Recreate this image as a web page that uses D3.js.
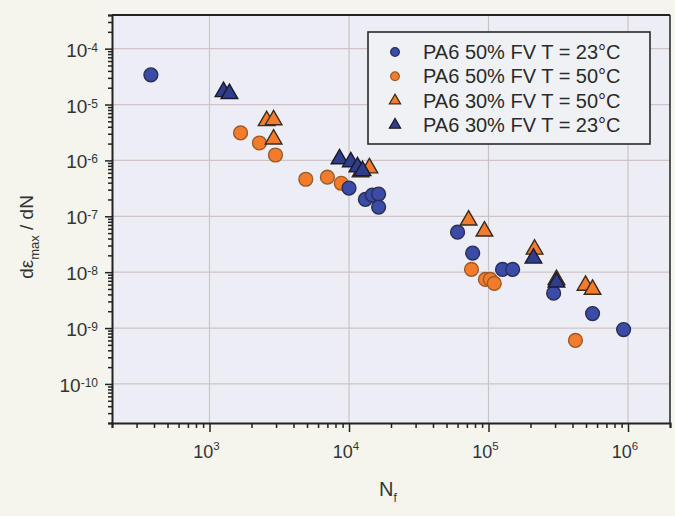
<!DOCTYPE html>
<html>
<head>
<meta charset="utf-8">
<script src="https://cdn.jsdelivr.net/npm/d3@7"></script>
<style>
    html, body { margin: 0; padding: 0; background: #f5f5ee; }
    svg { display: block; font-family: "Liberation Sans", Arial, sans-serif; }
</style>
</head>
<body>
<svg id="chart" width="675" height="516"></svg>
<script>
// PA6 50% FV T = 23°C (blue circles)
var blueCircleN = [380, 1.0e4, 1.31e4, 1.47e4, 1.63e4, 1.63e4, 6.0e4, 7.7e4, 1.26e5, 1.49e5, 2.93e5, 5.57e5, 9.3e5];
var blueCircleRate = [3.4e-5, 3.2e-7, 2.0e-7, 2.4e-7, 2.5e-7, 1.46e-7, 5.2e-8, 2.2e-8, 1.12e-8, 1.12e-8, 4.2e-9, 1.82e-9, 9.4e-10];
// PA6 50% FV T = 50°C (orange circles)
var orangeCircleN = [1.67e3, 2.28e3, 2.97e3, 4.9e3, 7.0e3, 8.8e3, 7.55e4, 9.5e4, 1.03e5, 1.10e5, 4.2e5];
var orangeCircleRate = [3.1e-6, 2.05e-6, 1.25e-6, 4.6e-7, 5.0e-7, 3.9e-7, 1.12e-8, 7.4e-9, 7.4e-9, 6.3e-9, 6.0e-10];
// PA6 30% FV T = 50°C (orange triangles)
var orangeTriN = [2.57e3, 2.88e3, 2.88e3, 1.21e4, 1.4e4, 7.2e4, 9.35e4, 2.14e5, 3.07e5, 4.96e5, 5.57e5];
var orangeTriRate = [5.1e-6, 5.3e-6, 2.4e-6, 6.2e-7, 7.3e-7, 8.5e-8, 5.4e-8, 2.56e-8, 7.3e-9, 5.8e-9, 4.9e-9];
// PA6 30% FV T = 23°C (dark triangles)
var darkTriN = [1.26e3, 1.39e3, 8.55e3, 1.03e4, 1.15e4, 1.25e4, 2.1e5, 3.07e5];
var darkTriRate = [1.69e-5, 1.56e-5, 1.06e-6, 9.4e-7, 7.6e-7, 6.5e-7, 1.77e-8, 6.6e-9];

var legendLabels = ["PA6 50% FV T = 23°C", "PA6 50% FV T = 50°C", "PA6 30% FV T = 50°C", "PA6 30% FV T = 23°C"];
var xTickExps = [3, 4, 5, 6];
var yTickExps = [-4, -5, -6, -7, -8, -9, -10];

var margin = {top: 15, left: 112, right: 5, bottom: 93};
var width = 675 - margin.left - margin.right;
var height = 516 - margin.top - margin.bottom;

var svg = d3.select("#chart");
var g = svg.append("g").attr("transform", "translate(" + margin.left + "," + margin.top + ")");

var x = d3.scaleLog().domain([200, 2e6]).range([0, width]);
var y = d3.scaleLog().domain([2e-11, 4e-4]).range([height, 0]);

g.append("rect").attr("width", width).attr("height", height).attr("fill", "#edeef5");

// grid lines at the decades
xTickExps.forEach(function (e) {
    g.append("line").attr("x1", x(Math.pow(10, e))).attr("x2", x(Math.pow(10, e)))
        .attr("y1", 0).attr("y2", height).attr("stroke", "#c9c3cc").attr("stroke-width", 1.2);
});
yTickExps.forEach(function (e) {
    g.append("line").attr("x1", 0).attr("x2", width)
        .attr("y1", y(Math.pow(10, e))).attr("y2", y(Math.pow(10, e)))
        .attr("stroke", "#cdc4c8").attr("stroke-width", 1.2);
});

// axes with minor ticks
var xAxis = d3.axisBottom(x).ticks(10).tickSize(5).tickFormat("");
var yAxis = d3.axisLeft(y).ticks(10).tickSize(4).tickFormat("");
g.append("g").attr("transform", "translate(0," + height + ")").call(xAxis)
    .call(function (s) {
        s.select(".domain").attr("stroke", "#222").attr("stroke-width", 2);
        s.selectAll(".tick line").attr("stroke", "#222").attr("stroke-width", 1.5)
            .attr("y2", function (d) { return Number.isInteger(Math.log10(d)) ? 9 : 5; });
    });
g.append("g").call(yAxis)
    .call(function (s) {
        s.select(".domain").attr("stroke", "#222").attr("stroke-width", 2);
        s.selectAll(".tick line").attr("stroke", "#222").attr("stroke-width", 1.5)
            .attr("x2", function (d) {
                var l = Math.log10(d);
                return Math.abs(l - Math.round(l)) < 1e-6 ? -7 : -4;
            });
    });
// frame top and right
g.append("line").attr("x1", 0).attr("x2", width).attr("y1", 0).attr("y2", 0).attr("stroke", "#222").attr("stroke-width", 2);
g.append("line").attr("x1", width).attr("x2", width).attr("y1", 0).attr("y2", height).attr("stroke", "#222").attr("stroke-width", 1.5);

// tick labels
xTickExps.forEach(function (e) {
    var t = g.append("text").attr("x", x(Math.pow(10, e)) - 3).attr("y", height + 35)
        .attr("text-anchor", "middle").attr("font-size", 18).attr("fill", "#333");
    t.append("tspan").text("10");
    t.append("tspan").attr("dy", -8).attr("font-size", 11.5).text(e);
});
yTickExps.forEach(function (e) {
    var t = g.append("text").attr("x", -14).attr("y", y(Math.pow(10, e)) + 8)
        .attr("text-anchor", "end").attr("font-size", 19).attr("fill", "#333");
    t.append("tspan").text("10");
    t.append("tspan").attr("dy", -5).attr("font-size", 12).text(e);
});

// axis titles
var xt = svg.append("text").attr("x", 379).attr("y", 496).attr("font-size", 20).attr("fill", "#333");
xt.append("tspan").text("N");
xt.append("tspan").attr("dy", 6).attr("font-size", 12).text("f");

var yt = svg.append("text").attr("transform", "translate(33,237) rotate(-90)")
    .attr("text-anchor", "middle").attr("font-size", 19).attr("fill", "#333");
yt.append("tspan").text("dε");
yt.append("tspan").attr("dy", 6).attr("font-size", 13).text("max");
yt.append("tspan").attr("dy", -6).text(" / dN");

// markers
var circleSym = d3.symbol().type(d3.symbolCircle).size(150);
var triSym = d3.symbol().type(d3.symbolTriangle).size(120);

function drawSeries(ns, rates, sym, fill, stroke) {
    g.append("g").selectAll("path").data(ns).enter().append("path")
        .attr("d", sym)
        .attr("transform", function (d, i) { return "translate(" + x(d) + "," + y(rates[i]) + ")"; })
        .attr("fill", fill).attr("stroke", stroke).attr("stroke-width", 1.4);
}
drawSeries(orangeCircleN, orangeCircleRate, circleSym, "#f27b2c", "#9a5a2a");
drawSeries(blueCircleN, blueCircleRate, circleSym, "#3a4ca6", "#2a2d55");
drawSeries(orangeTriN, orangeTriRate, triSym, "#f27b2c", "#3a2c1c");
drawSeries(darkTriN, darkTriRate, triSym, "#2e3d8c", "#1a1a2a");

// legend
var legend = svg.append("g").attr("transform", "translate(368,32)");
legend.append("rect").attr("width", 282).attr("height", 112).attr("fill", "#f0f1f4")
    .attr("stroke", "#2a2a2a").attr("stroke-width", 1.6);
var legendSyms = [d3.symbol().type(d3.symbolCircle).size(60), d3.symbol().type(d3.symbolCircle).size(60),
    d3.symbol().type(d3.symbolTriangle).size(55), d3.symbol().type(d3.symbolTriangle).size(55)];
var legendFill = ["#3a4ca6", "#f27b2c", "#f27b2c", "#2e3d8c"];
var legendStroke = ["#2a2d55", "#9a5a2a", "#3a2c1c", "#1a1a2a"];
legendLabels.forEach(function (label, i) {
    var row = 20 + i * 24.3;
    legend.append("path").attr("d", legendSyms[i]).attr("transform", "translate(27," + row + ")")
        .attr("fill", legendFill[i]).attr("stroke", legendStroke[i]).attr("stroke-width", 1.2);
    legend.append("text").attr("x", 55).attr("y", row + 7).attr("font-size", 20)
        .attr("fill", "#2a2a2a").text(label);
});
</script>
</body>
</html>
